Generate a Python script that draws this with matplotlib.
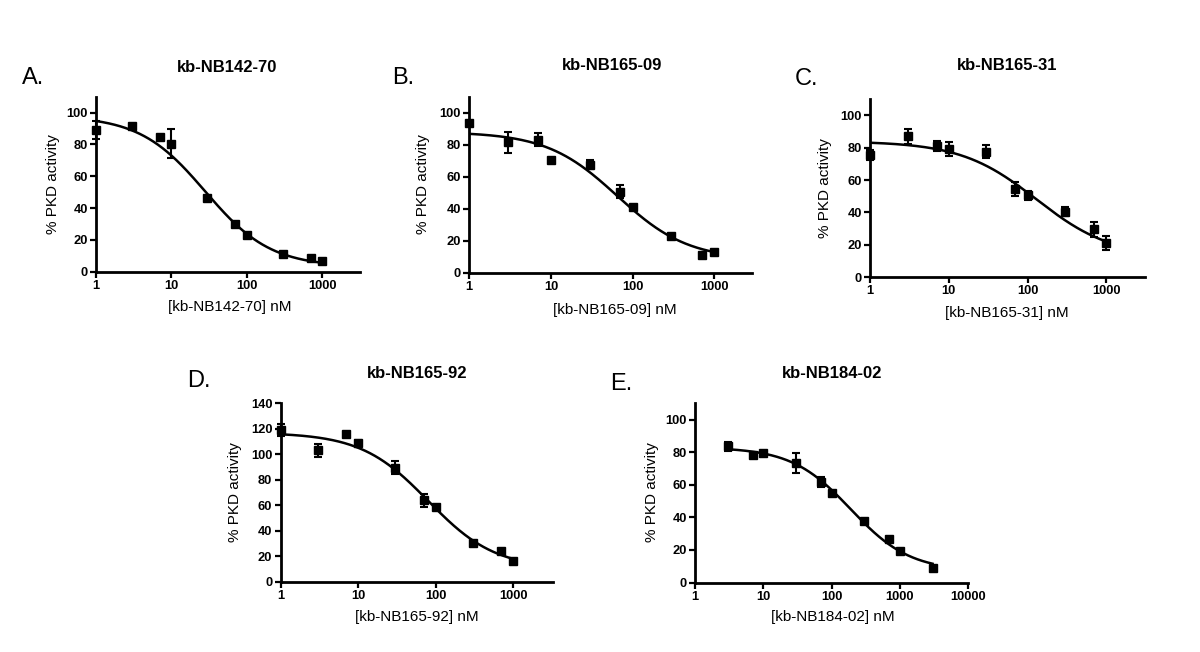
import numpy as np
import matplotlib
matplotlib.use("Agg")
import matplotlib.pyplot as plt

plt.rcParams['font.family'] = ['Liberation Sans', 'DejaVu Sans']

# ---------------- data ----------------
names = ["kb-NB142-70", "kb-NB165-09", "kb-NB165-31", "kb-NB165-92", "kb-NB184-02"]
letters = ["A.", "B.", "C.", "D.", "E."]

conc_A = [1, 3, 7, 10, 30, 70, 100, 300, 700, 1000]
act_A = [89, 91.5, 84.8, 80.5, 46.5, 30.2, 23.3, 11, 8.8, 6.9]
err_A = [5.5, 0, 0, 9, 0, 0, 0, 0, 0, 0]

conc_B = [1, 3, 7, 10, 30, 70, 100, 300, 700, 1000]
act_B = [93.6, 81.5, 83, 70.7, 67.5, 50.5, 41.2, 23, 10.8, 12.7]
err_B = [0, 6.5, 4, 0, 3, 4, 0, 0, 0, 0]

conc_C = [1, 3, 7, 10, 30, 70, 100, 300, 700, 1000]
act_C = [75.5, 87, 81, 79, 77.5, 54.5, 50.5, 40.5, 29.5, 21]
err_C = [3, 4.5, 3.3, 4.4, 4, 4.5, 3, 3, 4.6, 4.5]

conc_D = [1, 3, 7, 10, 30, 70, 100, 300, 700, 1000]
act_D = [119, 103, 116, 108.5, 89.5, 64, 59, 30.6, 24.3, 16.2]
err_D = [5, 5, 0, 3, 5, 5, 0, 0, 0, 0]

conc_E = [3, 7, 10, 30, 70, 100, 300, 700, 1000, 3000]
act_E = [83.5, 78.4, 79.2, 73.5, 61.8, 55, 37.5, 26.6, 19.6, 9.2]
err_E = [2.5, 0, 0, 6, 3, 0, 0, 0, 0, 0]

# fitted sigmoid parameters: top, bottom, IC50 (nM), Hill slope
fit_A = (98, 3, 28, 1.0)
fit_B = (88, 8, 65, 1.0)
fit_C = (84, 12, 130, 0.9)
fit_D = (117, 10, 80, 1.0)
fit_E = (83, 7, 190, 1.0)

ylims = [110, 110, 110, 140, 110]
yticks = [[0, 20, 40, 60, 80, 100]] * 3 + [[0, 20, 40, 60, 80, 100, 120, 140], [0, 20, 40, 60, 80, 100]]
xmaxes = [10 ** 3.5, 10 ** 3.46, 10 ** 3.49, 10 ** 3.52, 10000]
xticks = [[1, 10, 100, 1000]] * 4 + [[1, 10, 100, 1000, 10000]]

concs = [conc_A, conc_B, conc_C, conc_D, conc_E]
acts = [act_A, act_B, act_C, act_D, act_E]
errs = [err_A, err_B, err_C, err_D, err_E]
fits = [fit_A, fit_B, fit_C, fit_D, fit_E]

# ---------------- layout (pixels) ----------------
W, H = 1200, 652
# left, top, right, bottom of each axes
boxes = [(96, 96.7, 360, 271.7),
         (469.3, 96.7, 751.7, 272.7),
         (870, 99.3, 1145, 277.0),
         (280.7, 403.3, 553.3, 581.7),
         (695, 403.3, 968.3, 582.5)]
title_pos = [(227, 68), (612, 65), (1007, 65), (417, 373), (832, 373)]
letter_pos = [(22, 78), (392, 78), (795, 79), (187, 381), (610, 384)]
xlabel_pos = [(230, 307), (615, 310), (1007, 312.7), (417, 616.7), (833, 616.7)]
ylabel_pos = [(53, 184), (423, 184), (825, 188), (235, 492), (652, 492)]

fig = plt.figure(figsize=(W / 100, H / 100), dpi=100)

def fx(x):
    return x / W

def fy(y):
    return 1 - y / H

for i in range(5):
    l, t, r, b = boxes[i]
    ax = fig.add_axes([fx(l), fy(b), (r - l) / W, (b - t) / H])
    x = np.array(concs[i], dtype=float)
    y = np.array(acts[i], dtype=float)
    e = np.array(errs[i], dtype=float)
    top, bot, ic50, hill = fits[i]
    xc = np.logspace(np.log10(x.min()), np.log10(x.max()), 300)
    yc = bot + (top - bot) / (1 + (xc / ic50) ** hill)
    ax.plot(xc, yc, color='black', lw=1.8, zorder=2)
    ax.errorbar(x, y, yerr=e, fmt='s', color='black', ms=6.3, capsize=3,
                elinewidth=1.5, capthick=1.5, zorder=3, clip_on=False)
    ax.set_xscale('log')
    ax.set_xlim(1, xmaxes[i])
    ax.set_ylim(0, ylims[i])
    ax.set_xticks(xticks[i])
    ax.set_xticklabels([str(v) for v in xticks[i]])
    ax.xaxis.set_minor_locator(matplotlib.ticker.NullLocator())
    ax.set_yticks(yticks[i])
    for s in ['top', 'right']:
        ax.spines[s].set_visible(False)
    for s in ['left', 'bottom']:
        ax.spines[s].set_linewidth(2.0)
    ax.tick_params(axis='both', direction='out', length=4, width=1.6,
                   labelsize=9.3, pad=2)
    for lab in ax.get_xticklabels() + ax.get_yticklabels():
        lab.set_fontweight('bold')
    ax.patch.set_alpha(0)

    fig.text(fx(title_pos[i][0]), fy(title_pos[i][1]), names[i], ha='center',
             va='center', fontsize=12, fontweight='bold')
    fig.text(fx(letter_pos[i][0]), fy(letter_pos[i][1]), letters[i], ha='left',
             va='center', fontsize=17)
    fig.text(fx(xlabel_pos[i][0]), fy(xlabel_pos[i][1]), "[" + names[i] + "] nM",
             ha='center', va='center', fontsize=11)
    fig.text(fx(ylabel_pos[i][0]), fy(ylabel_pos[i][1]), "% PKD activity",
             ha='center', va='center', fontsize=11, rotation=90)

fig.savefig("out.png", dpi=100)
